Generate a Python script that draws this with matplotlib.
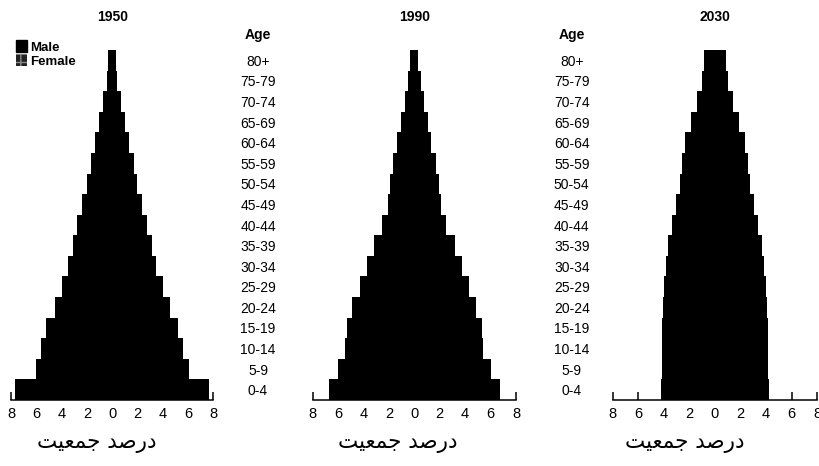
import matplotlib
matplotlib.use("Agg")
import matplotlib.pyplot as plt
from matplotlib.patches import Patch

# age groups, bottom (0-4) to top (80+)
age_groups = ['0-4', '5-9', '10-14', '15-19', '20-24', '25-29', '30-34', '35-39',
              '40-44', '45-49', '50-54', '55-59', '60-64', '65-69', '70-74',
              '75-79', '80+']

years = ['1950', '1990', '2030']

# percent of population per sex
pct_1950 = [7.66, 6.04, 5.63, 5.2, 4.54, 3.99, 3.48, 3.12, 2.74, 2.37, 2.0,
            1.7, 1.37, 1.04, 0.72, 0.42, 0.3]
pct_1990 = [6.72, 6.04, 5.42, 5.3, 4.87, 4.3, 3.72, 3.2, 2.52, 2.1, 1.92,
            1.7, 1.35, 1.05, 0.76, 0.52, 0.33]
pct_2030 = [4.2, 4.18, 4.16, 4.14, 4.06, 3.98, 3.8, 3.67, 3.38, 3.05, 2.7,
            2.6, 2.33, 1.9, 1.43, 1.05, 0.88]

x_ticks = [-8, -6, -4, -2, 0, 2, 4, 6, 8]
x_tick_labels = ['8', '6', '4', '2', '0', '2', '4', '6', '8']

# "درصد جمعیت" written with presentation forms in visual order
# (matplotlib does no arabic shaping on its own)
xlabel_fa = '\uFE96\uFEF4\uFECC\uFEE4\uFE9F \uFEAA\uFEBB\uFEAD\uFEA9'

plt.rcParams['font.family'] = ['Liberation Sans', 'DejaVu Sans']


def draw_pyramid(ax, pct, year, age_pad=None, xlabel_x=0.42):
    ypos = list(range(len(pct)))
    male = [-v for v in pct]
    ax.barh(ypos, male, height=1.0, color='black', linewidth=0)
    ax.barh(ypos, pct, height=1.0, color='black', linewidth=0)

    ax.set_xlim(-8, 8)
    ax.set_ylim(-0.5, len(pct) - 0.5)
    for side in ['top', 'left', 'right']:
        ax.spines[side].set_visible(False)
    ax.spines['bottom'].set_linewidth(1.1)

    ax.set_xticks(x_ticks)
    ax.set_xticklabels(x_tick_labels, fontsize=10.5)
    ax.tick_params(axis='x', direction='in', length=6, width=1.1, pad=5)

    ax.set_title(year, fontsize=10, fontweight='bold', pad=21)
    ax.set_xlabel(xlabel_fa, family=['DejaVu Sans'], fontsize=15.5)
    ax.xaxis.set_label_coords(xlabel_x, -0.095)

    if age_pad is None:
        ax.set_yticks([])
    else:
        ax.set_yticks(ypos)
        ax.set_yticklabels(age_groups, fontsize=10)
        for lab in ax.get_yticklabels():
            lab.set_horizontalalignment('center')
        ax.tick_params(axis='y', length=0, pad=age_pad)
        ax.annotate('Age', xy=(0, 1), xycoords='axes fraction',
                    xytext=(-age_pad, 11), textcoords='offset points',
                    ha='center', va='center', fontsize=10, fontweight='bold')


fig = plt.figure(figsize=(8.2, 4.66), dpi=100)
ax1 = fig.add_axes([0.0134, 0.1416, 0.2467, 0.7511])
ax2 = fig.add_axes([0.3813, 0.1416, 0.2479, 0.7511])
ax3 = fig.add_axes([0.7472, 0.1416, 0.2495, 0.7511])

draw_pyramid(ax1, pct_1950, years[0], xlabel_x=0.425)
draw_pyramid(ax2, pct_1990, years[1], age_pad=39.4, xlabel_x=0.42)
draw_pyramid(ax3, pct_2030, years[2], age_pad=29.5, xlabel_x=0.35)

handles = [Patch(facecolor='black', edgecolor='black'),
           Patch(facecolor='#222222', edgecolor='#888888', hatch='++', linewidth=0)]
fig.legend(handles, ['Male', 'Female'], loc='upper left',
           bbox_to_anchor=(0.012, 0.928), frameon=False, borderpad=0,
           handlelength=0.8, handleheight=1.0, handletextpad=0.2,
           labelspacing=0.05, prop={'weight': 'bold', 'size': 9.5})

fig.savefig('out.png', dpi=100)
